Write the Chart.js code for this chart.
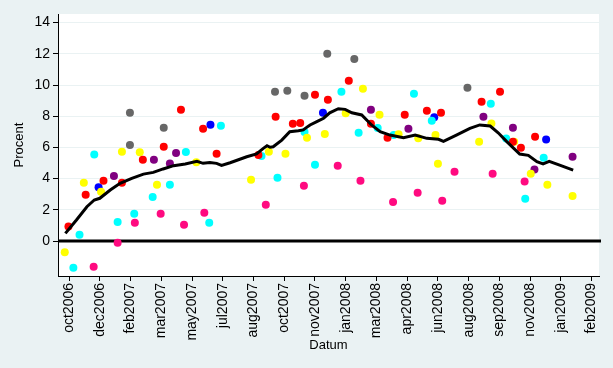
<!DOCTYPE html>
<html>
<head>
<meta charset="utf-8">
<script src="https://cdn.jsdelivr.net/npm/chart.js@4"></script>
<style>
  html, body { margin: 0; padding: 0; background: #eaf2f3; }
  #wrap { width: 613px; height: 368px; }
</style>
</head>
<body>
<div id="wrap"><canvas id="chart" width="613" height="368"></canvas></div>
<script>
// x values are days counted from 26 Oct 2006 (first tick)
const xTickDays = [0, 50, 100, 150, 200, 250, 300, 350, 400, 450, 500, 550, 600, 650, 700, 750, 800, 850];
const xTickLabels = ['oct2006', 'dec2006', 'feb2007', 'mar2007', 'may2007', 'jul2007', 'aug2007', 'oct2007', 'nov2007',
    'jan2008', 'mar2008', 'apr2008', 'jun2008', 'aug2008', 'sep2008', 'nov2008', 'jan2009', 'feb2009'];
const yTickValues = [0, 2, 4, 6, 8, 10, 12, 14];
const zeroLineValue = 0;

const redDays = [-1, 27, 56, 86, 120, 154, 182, 218, 240, 308, 336, 364, 376, 400, 421, 455, 491, 518, 546, 582, 605, 671, 701, 722, 735, 758];
const redValues = [0.94, 2.97, 3.87, 3.74, 5.21, 6.04, 8.42, 7.20, 5.60, 5.51, 7.97, 7.52, 7.56, 9.38, 9.06, 10.28, 7.52, 6.62, 8.10, 8.35, 8.22, 8.93, 9.57, 6.37, 5.98, 6.69];

const yellowDays = [-7, 24, 52, 86, 115, 143, 207, 296, 325, 352, 387, 416, 450, 478, 505, 536, 568, 596, 600, 667, 687, 724, 751, 778, 819];
const yellowValues = [-0.71, 3.74, 3.16, 5.72, 5.69, 3.61, 5.05, 3.93, 5.72, 5.60, 6.62, 6.86, 8.19, 9.76, 8.10, 6.84, 6.58, 6.79, 4.95, 6.37, 7.53, 6.37, 4.31, 3.61, 2.88];

const cyanDays = [7, 17, 41, 79, 106, 136, 164, 190, 228, 247, 313, 339, 383, 400, 443, 471, 502, 528, 561, 590, 686, 711, 742, 772];
const cyanValues = [-1.71, 0.40, 5.54, 1.22, 1.75, 2.82, 3.61, 5.71, 1.17, 7.39, 5.45, 4.06, 6.99, 4.89, 9.57, 6.94, 7.24, 6.79, 9.44, 7.71, 8.80, 6.57, 2.71, 5.34];

const pinkDays = [40, 79, 107, 149, 187, 220, 320, 382, 437, 474, 527, 567, 607, 627, 689, 741];
const pinkValues = [-1.65, -0.11, 1.17, 1.75, 1.04, 1.81, 2.33, 3.54, 4.83, 3.87, 2.50, 3.10, 2.58, 4.44, 4.31, 3.81];

const grayDays = [99, 99, 154, 335, 355, 383, 420, 464, 648];
const grayValues = [6.15, 8.22, 7.26, 9.57, 9.63, 9.31, 12.01, 11.67, 9.83];

const purpleDays = [73, 138, 164, 174, 491, 552, 674, 722, 757, 819];
const purpleValues = [4.17, 5.21, 4.97, 5.65, 8.42, 7.20, 7.97, 7.26, 4.58, 5.40];

const blueDays = [48, 230, 413, 594, 776];
const blueValues = [3.44, 7.46, 8.22, 7.93, 6.51];

// moving average line
const avgDays = [-6, 12, 29, 41, 50, 67, 83, 102, 121, 137, 153, 170, 189, 208, 218, 229, 240, 248, 262, 289,
    305, 316, 322, 327, 332, 346, 359, 373, 381, 387, 392, 403, 414, 424, 438, 449, 460, 476, 492, 506,
    522, 544, 563, 582, 601, 609, 630, 652, 668, 685, 698, 712, 733, 747, 761, 771, 781, 798, 820];
const avgValues = [0.49, 1.35, 2.20, 2.63, 2.74, 3.27, 3.70, 4.02, 4.29, 4.40, 4.62, 4.83, 4.94, 5.11, 4.98, 5.04, 4.98, 4.85, 5.02, 5.40,
    5.58, 5.94, 6.11, 6.01, 6.04, 6.47, 7.01, 7.07, 7.12, 7.30, 7.44, 7.65, 7.87, 8.22, 8.48, 8.44, 8.22, 8.08, 7.44, 7.01,
    6.79, 6.62, 6.79, 6.58, 6.52, 6.39, 6.79, 7.22, 7.44, 7.37, 6.94, 6.37, 5.58, 5.49, 5.08, 4.94, 5.11, 4.87, 4.55];

function points(days, values) {
    return days.map((d, i) => ({ x: d, y: values[i] }));
}

function markers(days, values, color) {
    return {
        type: 'scatter',
        data: points(days, values),
        backgroundColor: color,
        borderWidth: 0,
        pointRadius: 4,
        order: 1
    };
}

// white plot region
const plotBackground = {
    id: 'plotBackground',
    beforeDraw(chart) {
        const { ctx, chartArea: a } = chart;
        ctx.save();
        ctx.fillStyle = '#ffffff';
        ctx.fillRect(a.left, a.top, a.right - a.left, a.bottom - a.top);
        ctx.restore();
    }
};

// thick black line at y = 0
const zeroLine = {
    id: 'zeroLine',
    beforeDatasetsDraw(chart) {
        const { ctx, chartArea: a, scales } = chart;
        const py = scales.y.getPixelForValue(zeroLineValue);
        ctx.save();
        ctx.strokeStyle = '#000';
        ctx.lineWidth = 3;
        ctx.beginPath();
        ctx.moveTo(a.left, py);
        ctx.lineTo(a.right + 2, py);
        ctx.stroke();
        ctx.restore();
    }
};

const font = 'Liberation Sans, Arial, Helvetica, sans-serif';

new Chart(document.getElementById('chart'), {
    type: 'scatter',
    data: {
        datasets: [
            markers(redDays, redValues, '#ff0000'),
            markers(yellowDays, yellowValues, '#ffff00'),
            markers(cyanDays, cyanValues, '#00ffff'),
            markers(pinkDays, pinkValues, '#ff0a80'),
            markers(grayDays, grayValues, '#676767'),
            markers(purpleDays, purpleValues, '#800080'),
            markers(blueDays, blueValues, '#0000ff'),
            {
                type: 'line',
                data: points(avgDays, avgValues),
                borderColor: '#000',
                borderWidth: 3,
                pointRadius: 0,
                tension: 0,
                fill: false,
                order: 0
            }
        ]
    },
    options: {
        responsive: false,
        animation: false,
        layout: { padding: { top: 14, right: 14, left: 0, bottom: 0 } },
        plugins: {
            legend: { display: false },
            tooltip: { enabled: false }
        },
        scales: {
            x: {
                type: 'linear',
                min: -18,
                max: 862,
                afterBuildTicks: (scale) => { scale.ticks = xTickDays.map(v => ({ value: v })); },
                afterFit: (scale) => { scale.height = 92; },
                grid: { drawOnChartArea: false, tickLength: 5, tickColor: '#000' },
                border: { color: '#000', width: 1 },
                ticks: {
                    autoSkip: false,
                    minRotation: 90,
                    maxRotation: 90,
                    padding: 2,
                    color: '#000',
                    font: { family: font, size: 14 },
                    callback: (value, index) => xTickLabels[index]
                },
                title: {
                    display: true,
                    text: 'Datum',
                    color: '#000',
                    font: { family: font, size: 13 },
                    padding: { top: 0, bottom: 15 }
                }
            },
            y: {
                type: 'linear',
                min: -2.24,
                max: 14.55,
                afterBuildTicks: (scale) => { scale.ticks = yTickValues.map(v => ({ value: v })); },
                afterFit: (scale) => { scale.width = 58; },
                grid: { color: '#eaf2f3', tickLength: 5, tickColor: '#000' },
                border: { color: '#000', width: 1 },
                ticks: {
                    padding: 3,
                    color: '#000',
                    font: { family: font, size: 14 }
                },
                title: {
                    display: true,
                    text: 'Procent',
                    color: '#000',
                    font: { family: font, size: 13 },
                    padding: { top: 12, bottom: 0 }
                }
            }
        }
    },
    plugins: [plotBackground, zeroLine]
});
</script>
</body>
</html>
